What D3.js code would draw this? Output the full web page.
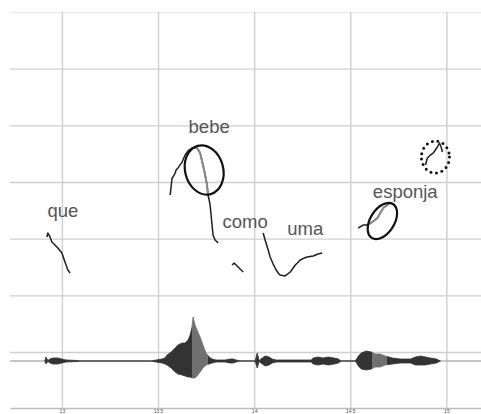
<!DOCTYPE html>
<html>
<head>
<meta charset="utf-8">
<script src="https://cdn.jsdelivr.net/npm/d3@7"></script>
<style>
  body { margin: 0; background: #fff; }
  svg { display: block; }
</style>
</head>
<body>
<div id="chart"></div>
<script>
const width = 481;
const height = 414;

// time axis (s) and pitch grid (Hz)
const timeTicks = [13, 13.5, 14, 14.5, 15];
const tickLabels = ["13", "13.5", "14", "14.5", "15"];
const pitchTicks = [0, 50, 100, 150, 200, 250, 300];

// pitch contours, one pair of arrays per word
const queTime = [12.922, 12.927, 12.938, 12.948, 12.964, 12.979, 13.0, 13.016, 13.031, 13.042];
const quePitch = [101.5, 105, 101.5, 97, 94.4, 91.8, 87.4, 79.4, 72.4, 69.7];

const bebeTime = [13.563, 13.568, 13.573, 13.578, 13.589, 13.594, 13.604, 13.625, 13.641, 13.656, 13.677, 13.703,
  13.719, 13.734, 13.745, 13.755, 13.760, 13.766, 13.771, 13.776, 13.781, 13.786, 13.797, 13.813];
const bebePitch = [138.5, 145.6, 153.5, 154.4, 157.9, 160.6, 162.4, 167.6, 173.8, 177.4, 180, 180,
  175.6, 165, 156.2, 147.4, 138.5, 134.1, 129.7, 120.9, 112.1, 103.2, 98.8, 96.2];

const comoTime = [13.885, 13.896, 13.906, 13.917, 13.927, 13.938, 13.943];
const comoPitch = [76.8, 78.5, 76.8, 75, 73.2, 71.5, 70.6];

const umaTime = [14.047, 14.057, 14.073, 14.083, 14.099, 14.109, 14.125, 14.135, 14.161, 14.188, 14.214, 14.240,
  14.260, 14.276, 14.307, 14.333, 14.354];
const umaPitch = [105, 98.8, 90, 83.8, 77.6, 74.1, 69.7, 67.9, 67.1, 70.6, 76.8, 81.2,
  82.9, 83.8, 84.7, 86.5, 87.4];

const esponjaTime = [14.542, 14.568, 14.589, 14.615, 14.641, 14.656, 14.672, 14.693, 14.708];
const esponjaPitch = [109.4, 112.1, 112.1, 114.7, 118.2, 122.6, 127.1, 129.7, 131.5];

const tailTime = [14.891, 14.901, 14.917, 14.932, 14.953, 14.964, 14.974, 14.979];
const tailPitch = [165, 171.2, 173.8, 175.6, 180.9, 184.4, 180, 176.5];

// word labels
const wordLabels = ["que", "bebe", "como", "uma", "esponja"];
const labelTime = [13.005, 13.766, 13.953, 14.266, 14.786];
const labelPitch = [119, 193.2, 109.4, 103.2, 135.9];

// circled regions (centre in s / Hz, half-extent in s / Hz)
const markTime = [13.740, 14.667, 14.943];
const markPitch = [160.6, 115.6, 172];
const markSpanTime = [0.099, 0.104, 0.073];
const markSpanPitch = [22, 10.6, 14.1];

// waveform envelope (arbitrary amplitude units)
const wavTime = [12.911, 12.917, 12.927, 12.938, 12.953, 12.979, 13.0, 13.021, 13.083, 13.094,
  13.464, 13.490, 13.521, 13.536, 13.547, 13.568, 13.589, 13.604, 13.625, 13.641, 13.656, 13.667, 13.677, 13.682,
  13.693, 13.703, 13.719, 13.734, 13.750, 13.766, 13.781, 13.802, 13.849, 13.875, 13.891, 13.906, 13.927,
  14.005, 14.016, 14.026, 14.042, 14.057, 14.078, 14.094, 14.115, 14.240, 14.297, 14.307, 14.333, 14.359,
  14.385, 14.417, 14.438, 14.453,
  14.526, 14.542, 14.557, 14.583, 14.609, 14.630, 14.656, 14.682, 14.719, 14.760, 14.813, 14.839, 14.865,
  14.891, 14.917, 14.948, 14.969];
const wavTop = [0, 4, 0.5, 2, 3, 3, 2, 1, 0.5, 0,
  0, 1, 2, 3, 6, 9, 13, 16, 18, 18, 21, 26, 34, 44,
  36, 31, 24, 16, 8, 4, 2, 1, 1, 2, 2, 1, 0,
  0, 8, 0.5, 3, 5, 4, 2, 1, 1, 1, 3, 4, 3,
  4, 3, 2, 0,
  0, 5, 8, 10, 9, 7, 7, 5, 3, 2, 2, 4, 5,
  4, 3, 2, 0];
const wavBottom = [0, 3, 0.5, 2, 3, 3, 2, 1, 0.5, 0,
  0, 1, 2, 3, 4, 7, 11, 13, 14, 15, 16, 16, 17, 17,
  17, 15, 11, 7, 4, 3, 2, 1, 1, 2, 2, 1, 0,
  0, 7, 0.5, 3, 5, 4, 2, 1, 1, 1, 3, 4, 3,
  4, 3, 2, 0,
  0, 5, 8, 9, 8, 6, 6, 4, 3, 2, 2, 4, 4,
  4, 3, 2, 0];
const wavLightRanges = [[13.676, 13.76], [14.612, 14.69]];

const svg = d3.select("#chart")
  .append("svg")
  .attr("width", width)
  .attr("height", height);

const x = d3.scaleLinear().domain([12.73, 15.18]).range([10, 481]);
const y = d3.scaleLinear().domain([0, 300]).range([352, 12]);
const amp = d3.scaleLinear().domain([-44, 44]).range([405, 317]);
const axisY = 408;

// horizontal grid
svg.append("g")
  .attr("transform", `translate(${x.range()[0]},0)`)
  .call(d3.axisLeft(y).tickValues(pitchTicks).tickSize(-(x.range()[1] - x.range()[0])).tickFormat(""))
  .call(g => g.select(".domain").remove())
  .call(g => g.selectAll(".tick line")
    .attr("stroke", d => d === 300 ? "#ececec" : "#cfcfcf")
    .attr("stroke-width", 1.4));

// vertical grid + time axis
svg.append("g")
  .attr("transform", `translate(0,${axisY})`)
  .call(d3.axisBottom(x).tickValues(timeTicks).tickSize(-(axisY - y(300))).tickSizeOuter(0)
    .tickPadding(1).tickFormat((d, i) => tickLabels[i]))
  .call(g => g.select(".domain").attr("stroke", "#bdbdbd").attr("stroke-width", 1.4))
  .call(g => g.selectAll(".tick line").attr("stroke", "#cfcfcf").attr("stroke-width", 1.4))
  .call(g => g.selectAll(".tick text")
    .attr("fill", "#555")
    .attr("dy", "0.7em")
    .style("font-family", "'Liberation Sans', Arial, sans-serif")
    .style("font-size", "5px"));

// waveform
const defs = svg.append("defs");
const grad = defs.append("linearGradient")
  .attr("id", "wavFill")
  .attr("gradientUnits", "userSpaceOnUse")
  .attr("x1", x.range()[0]).attr("x2", x.range()[1])
  .attr("y1", 0).attr("y2", 0);
const span = x.range()[1] - x.range()[0];
wavLightRanges.forEach(r => {
  const o0 = (x(r[0]) - x.range()[0]) / span;
  const o1 = (x(r[1]) - x.range()[0]) / span;
  grad.append("stop").attr("offset", o0).attr("stop-color", "#333");
  grad.append("stop").attr("offset", o0).attr("stop-color", "#707070");
  grad.append("stop").attr("offset", o1).attr("stop-color", "#707070");
  grad.append("stop").attr("offset", o1).attr("stop-color", "#333");
});

svg.append("line")
  .attr("x1", x.range()[0]).attr("x2", x.range()[1])
  .attr("y1", amp(0)).attr("y2", amp(0))
  .attr("stroke", "#b5b5b5")
  .attr("stroke-width", 1.5);

const area = d3.area()
  .x(i => x(wavTime[i]))
  .y0(i => amp(-wavBottom[i]))
  .y1(i => amp(wavTop[i]));

svg.append("path")
  .attr("d", area(d3.range(wavTime.length)))
  .attr("fill", "url(#wavFill)")
  .attr("stroke", "url(#wavFill)")
  .attr("stroke-width", 0.8);

// pitch contours
const contours = [
  d3.zip(queTime, quePitch),
  d3.zip(bebeTime, bebePitch),
  d3.zip(comoTime, comoPitch),
  d3.zip(umaTime, umaPitch),
  d3.zip(esponjaTime, esponjaPitch),
  d3.zip(tailTime, tailPitch)
];

const line = d3.line()
  .x(d => x(d[0]))
  .y(d => y(d[1]));

svg.append("g")
  .selectAll("path")
  .data(contours)
  .join("path")
  .attr("d", line)
  .attr("fill", "none")
  .attr("stroke", "#1e1e1e")
  .attr("stroke-width", 1.5)
  .attr("stroke-linejoin", "round");

// circled regions
const markAngle = [-15, -58, 0];
const markDotted = [false, false, true];
const marks = markTime.map((t, i) => ({
  cx: x(t),
  cy: y(markPitch[i]),
  rx: x(t + markSpanTime[i]) - x(t),
  ry: y(markPitch[i]) - y(markPitch[i] + markSpanPitch[i]),
  angle: markAngle[i],
  dotted: markDotted[i]
}));

// inside the solid ellipses the contour shows lighter
defs.append("clipPath")
  .attr("id", "markClip")
  .selectAll("ellipse")
  .data(marks.filter(m => !m.dotted))
  .join("ellipse")
  .attr("cx", d => d.cx).attr("cy", d => d.cy)
  .attr("rx", d => d.rx).attr("ry", d => d.ry)
  .attr("transform", d => `rotate(${d.angle},${d.cx},${d.cy})`);

svg.append("g")
  .attr("clip-path", "url(#markClip)")
  .selectAll("path")
  .data(contours)
  .join("path")
  .attr("d", line)
  .attr("fill", "none")
  .attr("stroke", "#8a8a8a")
  .attr("stroke-width", 2);

svg.append("g")
  .selectAll("ellipse")
  .data(marks)
  .join("ellipse")
  .attr("cx", d => d.cx).attr("cy", d => d.cy)
  .attr("rx", d => d.rx).attr("ry", d => d.ry)
  .attr("transform", d => `rotate(${d.angle},${d.cx},${d.cy})`)
  .attr("fill", "none")
  .attr("stroke", "#111")
  .attr("stroke-width", d => d.dotted ? 3 : 2.2)
  .attr("stroke-dasharray", d => d.dotted ? "0 5.6" : null)
  .attr("stroke-linecap", d => d.dotted ? "round" : null);

// word labels
svg.append("g")
  .selectAll("text")
  .data(wordLabels)
  .join("text")
  .attr("x", (d, i) => x(labelTime[i]))
  .attr("y", (d, i) => y(labelPitch[i]))
  .attr("text-anchor", "middle")
  .attr("fill", "#555")
  .style("font-family", "'Liberation Sans', Arial, sans-serif")
  .style("font-size", "18.5px")
  .text(d => d);
</script>
</body>
</html>
